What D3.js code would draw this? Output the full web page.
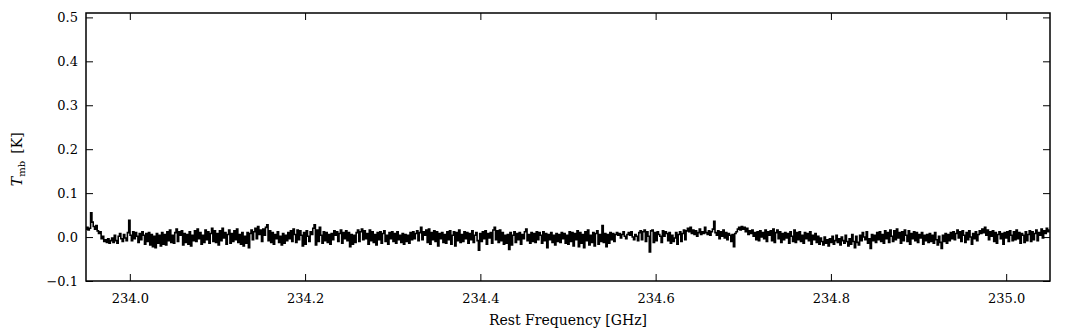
<!DOCTYPE html>
<html>
<head>
	<meta charset="utf-8">
	<title>Spectrum</title>
	<script type="text/javascript" src="https://d3js.org/d3.v7.min.js"></script>
	<style>
		body { margin: 0; background: #fff; }
	</style>
</head>
<body>
	<div id="chart"></div>
	<script>
	// channel grid of the spectrum
	var freqStart = 233.950;
	var channelWidth = 0.0015;

	// Tmb [K] per channel
	var tmb = [
		0.018, 0.022, 0.016, 0.020, 0.055, 0.034, 0.024, 0.018, 0.026, 0.014, 0.008, 0.012, -0.004, 0.002, -0.010, -0.006, -0.012, -0.004, -0.014, -0.008,
		-0.002, -0.012, 0.004, -0.008, -0.014, 0.002, 0.008, -0.004, -0.010, 0.006, -0.002, -0.008, 0.010, 0.038, 0.004, -0.008, 0.012, -0.004, 0.010, 0.002,
		-0.012, 0.008, -0.006, 0.012, 0.004, -0.016, 0.008, -0.010, 0.010, -0.018, 0.006, -0.022, 0.002, -0.024, 0.008, -0.014, 0.004, -0.020, 0.010, -0.016,
		0.006, -0.018, 0.012, -0.008, 0.016, -0.012, 0.004, -0.014, 0.010, 0.018, -0.010, 0.012, 0.004, 0.014, -0.018, 0.008, -0.012, 0.006, -0.016, 0.012,
		-0.020, 0.004, -0.008, 0.014, -0.010, 0.018, -0.004, 0.010, -0.016, 0.004, -0.012, 0.016, -0.006, 0.012, -0.014, 0.008, 0.020, -0.010, 0.014, -0.012,
		0.008, -0.018, 0.014, -0.008, 0.020, -0.002, 0.010, -0.016, 0.006, 0.016, -0.014, 0.008, -0.010, 0.014, -0.006, 0.018, -0.012, 0.006, -0.016, 0.010,
		-0.020, 0.002, -0.014, 0.010, -0.024, 0.008, 0.016, -0.006, 0.012, 0.020, -0.004, 0.024, 0.006, 0.016, -0.010, 0.018, 0.004, 0.022, 0.028, -0.008,
		0.014, -0.012, 0.010, -0.016, 0.006, -0.004, 0.012, -0.012, 0.002, -0.018, 0.008, -0.014, 0.004, -0.008, 0.010, -0.004, 0.014, -0.010, 0.018, 0.006,
		-0.012, 0.016, -0.006, 0.014, 0.004, -0.020, 0.010, -0.016, 0.014, 0.002, -0.010, 0.012, 0.006, 0.020, 0.028, -0.018, 0.016, -0.010, 0.022, 0.004,
		-0.014, 0.012, -0.008, 0.010, -0.012, 0.006, -0.016, 0.008, -0.006, 0.014, 0.004, 0.012, -0.010, 0.008, 0.016, -0.014, 0.010, -0.004, 0.014, -0.008,
		0.010, -0.022, 0.006, -0.016, 0.004, -0.012, 0.010, 0.016, -0.010, 0.012, 0.018, -0.006, 0.014, -0.004, 0.008, -0.016, 0.016, -0.008, 0.012, -0.012,
		0.006, -0.018, 0.010, -0.006, 0.012, -0.014, 0.008, 0.014, -0.010, 0.004, -0.016, 0.010, -0.004, 0.012, -0.010, 0.008, -0.014, 0.012, -0.006, 0.004,
		-0.012, 0.008, -0.016, 0.006, -0.010, 0.004, -0.014, 0.010, -0.006, 0.012, -0.004, 0.008, 0.014, -0.008, 0.010, 0.022, -0.006, 0.012, 0.004, 0.016,
		-0.012, 0.018, -0.016, 0.010, -0.006, 0.014, -0.010, 0.012, -0.020, 0.008, -0.004, 0.010, -0.012, 0.006, -0.014, 0.012, -0.006, 0.014, -0.016, 0.004,
		0.012, -0.020, 0.010, -0.008, 0.016, -0.012, 0.006, -0.010, 0.012, -0.004, 0.010, -0.014, 0.008, -0.006, 0.014, -0.012, 0.004, 0.010, -0.008, -0.030,
		0.008, -0.010, 0.012, -0.004, 0.014, -0.016, 0.008, -0.002, 0.010, -0.014, 0.016, 0.022, -0.006, 0.014, -0.012, 0.016, -0.008, 0.010, -0.016, 0.004,
		-0.014, 0.006, -0.028, 0.010, -0.018, 0.004, 0.012, -0.012, 0.008, -0.006, 0.010, -0.016, 0.006, -0.004, 0.012, 0.018, -0.008, 0.006, -0.014, 0.010,
		-0.010, 0.008, -0.012, 0.012, -0.006, 0.010, 0.004, -0.014, 0.012, -0.008, 0.008, -0.024, 0.006, -0.006, 0.010, -0.012, 0.004, -0.018, 0.008, -0.010,
		0.006, -0.012, 0.010, -0.004, 0.008, -0.014, 0.004, -0.016, 0.012, -0.010, 0.010, -0.020, 0.008, -0.006, 0.014, -0.022, 0.010, -0.014, 0.006, -0.024,
		0.012, -0.008, 0.016, -0.018, 0.004, -0.012, 0.010, -0.020, 0.008, 0.014, -0.016, 0.006, -0.010, 0.026, -0.012, 0.008, -0.022, 0.006, -0.014, 0.010,
		-0.006, 0.008, -0.010, 0.006, 0.010, 0.004, 0.008, -0.002, 0.006, 0.012, 0.002, -0.004, 0.006, 0.010, 0.004, 0.012, 0.000, -0.006, 0.006, 0.002,
		-0.008, 0.010, 0.014, -0.006, 0.012, 0.016, -0.010, 0.012, 0.002, -0.034, 0.014, 0.016, -0.012, 0.010, -0.008, 0.012, 0.006, 0.002, -0.012, 0.014,
		0.002, 0.012, 0.008, -0.008, 0.010, -0.014, 0.004, -0.010, -0.002, 0.010, -0.016, 0.006, 0.012, -0.010, 0.008, 0.016, -0.006, 0.014, 0.020, 0.012,
		0.022, 0.008, 0.016, 0.006, 0.014, 0.002, 0.010, 0.018, 0.006, 0.012, 0.008, 0.022, 0.010, 0.006, 0.014, 0.004, 0.012, 0.018, 0.036, 0.010,
		0.004, 0.014, -0.004, 0.012, 0.002, 0.016, -0.002, 0.010, -0.006, 0.008, 0.004, -0.010, 0.006, -0.022, 0.008, 0.012, 0.018, 0.022, 0.016, 0.024,
		0.018, 0.022, 0.012, 0.020, 0.006, 0.014, 0.008, 0.016, 0.002, 0.010, -0.006, 0.012, -0.008, 0.014, 0.000, 0.010, -0.004, 0.016, -0.010, 0.012,
		0.004, 0.014, -0.008, 0.018, -0.012, 0.010, 0.016, -0.004, 0.012, -0.012, 0.008, -0.006, 0.010, -0.002, 0.008, -0.014, 0.012, 0.002, -0.010, 0.016,
		-0.012, 0.010, -0.006, 0.012, -0.010, 0.004, -0.014, 0.010, -0.004, 0.008, -0.008, 0.012, -0.016, 0.004, -0.006, 0.008, -0.012, 0.002, -0.016, -0.002,
		-0.010, -0.018, 0.000, -0.014, -0.006, -0.020, -0.004, -0.012, 0.002, -0.016, -0.008, 0.004, -0.012, -0.004, -0.018, 0.000, -0.008, -0.014, 0.004, -0.010,
		-0.020, -0.004, -0.016, 0.006, -0.010, -0.024, 0.002, -0.012, -0.018, 0.004, -0.008, 0.010, 0.000, -0.006, 0.012, -0.014, -0.004, -0.026, 0.006, -0.008,
		0.004, -0.012, 0.010, -0.006, 0.012, -0.010, 0.006, -0.014, 0.014, -0.004, 0.010, -0.012, 0.016, 0.002, -0.010, 0.014, -0.006, 0.018, -0.002, 0.010,
		-0.014, 0.012, -0.008, 0.016, 0.004, -0.010, 0.014, -0.016, 0.008, -0.004, 0.012, -0.008, 0.010, -0.012, 0.006, -0.002, 0.010, -0.016, 0.004, -0.008,
		0.006, -0.012, 0.008, -0.010, 0.004, -0.014, 0.010, -0.006, -0.018, 0.002, -0.012, -0.026, 0.004, -0.010, 0.008, -0.014, 0.006, -0.008, 0.010, -0.004,
		0.012, -0.006, 0.008, 0.016, -0.002, 0.012, -0.010, 0.014, 0.004, -0.012, 0.010, -0.006, 0.014, 0.000, -0.016, 0.008, -0.004, 0.012, -0.008, 0.006,
		0.014, 0.008, 0.018, 0.010, 0.022, 0.004, 0.016, -0.006, 0.012, 0.002, 0.014, -0.010, 0.010, -0.014, 0.006, 0.012, -0.004, 0.008, -0.016, 0.010,
		-0.002, 0.012, -0.010, 0.014, 0.004, -0.008, 0.012, -0.006, 0.016, -0.004, 0.010, -0.014, 0.008, 0.004, -0.012, 0.012, -0.008, 0.006, 0.014, -0.010,
		0.012, -0.006, 0.008, 0.016, -0.008, 0.010, 0.004, 0.018, -0.002, 0.014, 0.008, 0.020, 0.012, 0.016
	];

	var xTicks = [234.0, 234.2, 234.4, 234.6, 234.8, 235.0];
	var yTicks = [-0.1, 0.0, 0.1, 0.2, 0.3, 0.4, 0.5];

	var width = 1072;
	var height = 331;
	var margin = {top: 13, right: 22, bottom: 50, left: 86};
	var w = width - margin.left - margin.right;
	var h = height - margin.top - margin.bottom;

	var serif = "DejaVu Serif";

	var data = tmb.map(function(v, i) {
		return {f: freqStart + i * channelWidth, t: v};
	});

	var x = d3.scaleLinear().domain([233.95, 235.05]).range([0, w]);
	var y = d3.scaleLinear().domain([-0.1, 0.51]).range([h, 0]);

	var svg = d3.select("#chart")
		.append("svg")
			.attr("width", width)
			.attr("height", height)
		.append("g")
			.attr("transform", "translate(" + margin.left + "," + margin.top + ")");

	svg.append("clipPath").attr("id", "clip")
		.append("rect").attr("width", w).attr("height", h);

	var line = d3.line()
		.x(function(d) { return x(d.f); })
		.y(function(d) { return y(d.t); })
		.curve(d3.curveStep);

	svg.append("path")
		.datum(data)
		.attr("clip-path", "url(#clip)")
		.attr("fill", "none")
		.attr("stroke", "#000")
		.attr("stroke-width", 1.6)
		.attr("d", line);

	var fmt = d3.format(".1f");
	var tl = 7;

	// bottom and top axes, ticks pointing inside
	svg.append("g")
		.attr("transform", "translate(0," + h + ")")
		.call(d3.axisBottom(x).tickValues(xTicks).tickFormat(fmt).tickSize(-tl).tickPadding(13))
		.call(function(g) { g.select(".domain").remove(); });
	svg.append("g")
		.call(d3.axisTop(x).tickValues(xTicks).tickFormat("").tickSize(-tl))
		.call(function(g) { g.select(".domain").remove(); });

	// left and right axes
	svg.append("g")
		.call(d3.axisLeft(y).tickValues(yTicks).tickFormat(function(d) {
			return fmt(d).replace("-", "\u2212");
		}).tickSize(-tl).tickPadding(8))
		.call(function(g) { g.select(".domain").remove(); });
	svg.append("g")
		.attr("transform", "translate(" + w + ",0)")
		.call(d3.axisRight(y).tickValues(yTicks).tickFormat("").tickSize(-tl))
		.call(function(g) { g.select(".domain").remove(); });

	svg.selectAll("g").attr("font-family", serif);
	svg.selectAll(".tick line").attr("stroke", "#000").attr("stroke-width", 1);
	svg.selectAll(".tick text")
		.attr("font-size", 13)
		.style("font-family", serif)
		.attr("fill", "#000");

	svg.append("rect")
		.attr("width", w)
		.attr("height", h)
		.attr("fill", "none")
		.attr("stroke", "#000")
		.attr("stroke-width", 1.5);

	svg.append("text")
		.attr("x", w / 2)
		.attr("y", h + 44)
		.attr("text-anchor", "middle")
		.style("font-family", serif)
		.attr("font-size", 14)
		.attr("fill", "#000")
		.text("Rest Frequency [GHz]");

	var ylab = svg.append("text")
		.attr("transform", "translate(" + (-64) + "," + (y(0.2) + 10) + ") rotate(-90)")
		.attr("text-anchor", "middle")
		.style("font-family", serif)
		.attr("font-size", 14)
		.attr("fill", "#000");
	ylab.append("tspan").attr("font-style", "italic").text("T");
	ylab.append("tspan").attr("font-size", 10).attr("dy", 3).text("mb");
	ylab.append("tspan").attr("dy", -3).text("\u2009 [K]");
	</script>
</body>
</html>
